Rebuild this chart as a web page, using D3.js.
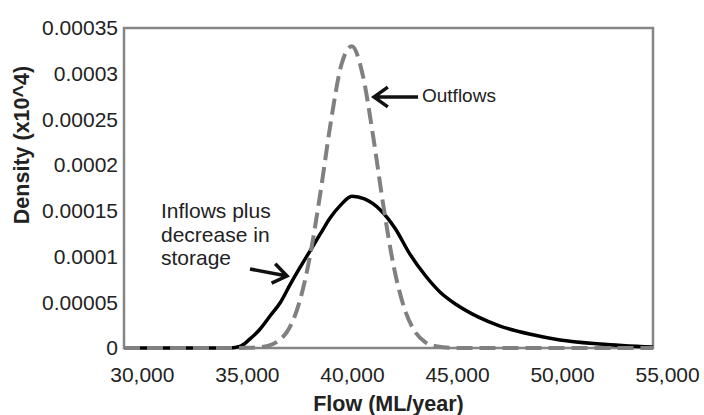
<!DOCTYPE html>
<html>
<head>
<meta charset="utf-8">
<script src="https://cdn.jsdelivr.net/npm/d3@7"></script>
<style>
  body { margin: 0; background: #fff; }
  text { font-family: "Liberation Sans", Arial, sans-serif; fill: #222; }
</style>
</head>
<body>
<div id="chart"></div>
<script>
// flow values (ML/year) and densities
var inflowFlow = [29150, 34200, 34700, 35150, 35600, 36100, 36600, 37050, 37500, 38000, 38500, 38950, 39450, 40000, 40600, 41350, 42050, 42750, 43500, 44200, 45000, 46000, 47050, 48500, 49900, 51800, 54330];
var inflowDens = [0, 0, 0.000002, 0.00001, 0.00002, 0.000035, 0.00005, 0.000069, 0.000087, 0.000106, 0.000125, 0.000142, 0.000156, 0.000166, 0.000163, 0.000151, 0.000131, 0.000103, 0.000079, 0.000061, 0.000047, 0.000034, 0.000024, 0.000015, 0.0000088, 0.0000044, 0.000001];

var outflowFlow = [29150, 34000, 35000, 35500, 36000, 36500, 37000, 37500, 38000, 38500, 39000, 39500, 40000, 40500, 41000, 41500, 42000, 42500, 43000, 43500, 44000, 45000, 54330];
var outflowDens = [0, 0, 0.0000003, 0.0000008, 0.0000024, 0.0000078, 0.000021, 0.00005, 0.0001, 0.00017, 0.000248, 0.00031, 0.00033, 0.0003, 0.000233, 0.000155, 0.000088, 0.000043, 0.000018, 0.0000062, 0.0000019, 0, 0];

var xTicks = [30000, 35000, 40000, 45000, 50000, 55000];
var yTicks = [0, 0.00005, 0.0001, 0.00015, 0.0002, 0.00025, 0.0003, 0.00035];
var yTickLabels = ["0", "0.00005", "0.0001", "0.00015", "0.0002", "0.00025", "0.0003", "0.00035"];

var W = 704, H = 415;
var pL = 124, pR = 653, pT = 28, pB = 348;

var svg = d3.select("#chart")
            .append("svg")
            .attr("width", W)
            .attr("height", H);

var x = d3.scaleLinear()
          .domain([29150, 54330])
          .range([pL, pR]);

var y = d3.scaleLinear()
          .domain([0, 0.00035])
          .range([pB, pT]);

// axes, no tick marks
var xAxis = svg.append("g")
               .attr("transform", "translate(0," + pB + ")")
               .call(d3.axisBottom(x).tickValues(xTicks).tickSize(0).tickPadding(19).tickFormat(d3.format(",")));
xAxis.select(".domain").remove();
xAxis.selectAll("text")
     .style("font-size", "21px")
     .attr("fill", "#222");

var yAxis = svg.append("g")
               .attr("transform", "translate(" + (pL - 6) + ",0)")
               .call(d3.axisLeft(y).tickValues(yTicks).tickSize(0).tickPadding(0)
                       .tickFormat(function(d, i){ return yTickLabels[i]; }));
yAxis.select(".domain").remove();
yAxis.selectAll("text")
     .style("font-size", "21px")
     .attr("fill", "#222");

// plot frame
svg.append("rect")
   .attr("x", pL)
   .attr("y", pT)
   .attr("width", pR - pL)
   .attr("height", pB - pT)
   .attr("fill", "none")
   .attr("stroke", "#858585")
   .attr("stroke-width", 2.5);

var line = d3.line()
             .x(function(d){ return x(d[0]); })
             .y(function(d){ return y(d[1]); })
             .curve(d3.curveMonotoneX);

var inflows = d3.zip(inflowFlow, inflowDens);
var outflows = d3.zip(outflowFlow, outflowDens);

svg.append("path")
   .attr("d", line(inflows))
   .attr("fill", "none")
   .attr("stroke", "#000")
   .attr("stroke-width", 3.5);

svg.append("path")
   .attr("d", line(outflows))
   .attr("fill", "none")
   .attr("stroke", "#808080")
   .attr("stroke-width", 4)
   .attr("stroke-dasharray", "16,7");

// axis titles
svg.append("text")
   .attr("x", (pL + pR) / 2)
   .attr("y", 411)
   .attr("text-anchor", "middle")
   .style("font-size", "21.5px")
   .style("font-weight", "bold")
   .text("Flow (ML/year)");

svg.append("text")
   .attr("transform", "translate(29,145) rotate(-90)")
   .attr("text-anchor", "middle")
   .style("font-size", "21.5px")
   .style("font-weight", "bold")
   .text("Density (x10^4)");

// arrows with open heads
function arrow(x1, y1, x2, y2){
    var a = Math.atan2(y2 - y1, x2 - x1);
    var L = 17, s = 0.62;
    var p1 = [x2 - L*Math.cos(a - s), y2 - L*Math.sin(a - s)];
    var p2 = [x2 - L*Math.cos(a + s), y2 - L*Math.sin(a + s)];
    svg.append("path")
       .attr("d", "M" + x1 + "," + y1 + "L" + x2 + "," + y2 +
                  "M" + p1[0] + "," + p1[1] + "L" + x2 + "," + y2 + "L" + p2[0] + "," + p2[1])
       .attr("fill", "none")
       .attr("stroke", "#111")
       .attr("stroke-width", 3.5);
}

arrow(418, 97, 374, 97);
svg.append("text")
   .attr("x", 422)
   .attr("y", 102)
   .style("font-size", "19px")
   .text("Outflows");

arrow(250, 269, 287, 276);
var lab = ["Inflows plus", "decrease in", "storage"];
for(var i=0;i<lab.length;i++){
    svg.append("text")
       .attr("x", 161)
       .attr("y", 218 + i*23.5)
       .style("font-size", "21px")
       .text(lab[i]);
}
</script>
</body>
</html>
